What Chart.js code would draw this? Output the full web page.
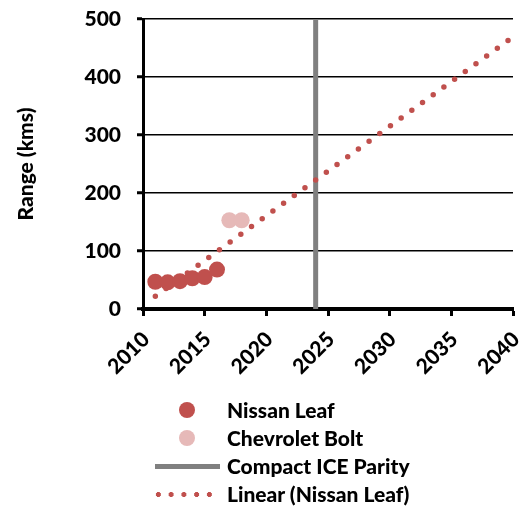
<!DOCTYPE html>
<html>
<head>
<meta charset="utf-8">
<script src="https://cdn.jsdelivr.net/npm/chart.js@4/dist/chart.umd.min.js"></script>
<style>
  html, body { margin: 0; padding: 0; background: #fff; }
  #wrap { position: relative; width: 521px; height: 510px; overflow: hidden; }
  #chart { position: absolute; left: 0; top: 0; }
  #legend { position: absolute; left: 150px; top: 396px; width: 371px; font-family: Lato, 'Noto Sans', sans-serif; font-weight: 900; font-size: 21px; color: #000; }
  .row { position: relative; height: 28px; }
  .row .txt { position: absolute; left: 77px; top: 0; line-height: 28px; white-space: nowrap; }
  .mk { position: absolute; }
</style>
</head>
<body>
<div id="wrap">
  <canvas id="chart" width="521" height="510"></canvas>
  <div id="legend"></div>
</div>
<script>
// ---- data ----
const leafYears = [2011, 2012, 2013, 2014, 2015, 2016];
const leafRange = [47, 46, 48, 53, 55, 68];
const boltYears = [2017, 2018];
const boltRange = [153, 153];
const parityYear = [2024, 2024];
const parityRange = [0, 500];
const trendYears = [2011, 2040];
const trendRange = [22, 469];
const xTickLabels = ['2010', '2015', '2020', '2025', '2030', '2035', '2040'];
const yTickLabels = ['0', '100', '200', '300', '400', '500'];
const seriesNames = ['Nissan Leaf', 'Chevrolet Bolt', 'Compact ICE Parity', 'Linear (Nissan Leaf)'];
const yTitle = 'Range (kms)';

const RED = '#C0504D';
const PINK = '#E6B9B8';
const GREY = '#808080';

function pts(xs, ys) { return xs.map((x, i) => ({ x: x, y: ys[i] })); }

function draw() {
  const font = { family: 'Lato', weight: '900', size: 21 };
  new Chart(document.getElementById('chart'), {
    type: 'scatter',
    data: {
      datasets: [
        { label: seriesNames[3], data: pts(trendYears, trendRange), showLine: true,
          borderColor: RED, borderWidth: 5.5, borderDash: [0, 13.2], borderCapStyle: 'round',
          pointRadius: 0, fill: false, order: 1 },
        { label: seriesNames[0], data: pts(leafYears, leafRange), pointRadius: 8,
          backgroundColor: RED, borderWidth: 0, order: 2 },
        { label: seriesNames[1], data: pts(boltYears, boltRange), pointRadius: 8,
          backgroundColor: PINK, borderWidth: 0, order: 3 },
        { label: seriesNames[2], data: pts(parityYear, parityRange), showLine: true,
          borderColor: GREY, borderWidth: 5, pointRadius: 0, fill: false, order: 4 }
      ]
    },
    options: {
      responsive: false,
      animation: false,
      events: [],
      layout: { padding: { top: 19, right: 8, bottom: 121, left: 0 } },
      plugins: { legend: { display: false }, tooltip: { enabled: false } },
      scales: {
        x: {
          type: 'linear', min: 2010, max: 2040,
          afterBuildTicks: s => { s.ticks = xTickLabels.map(v => ({ value: Number(v) })); },
          afterFit: s => { s.height = 80; s.paddingLeft = 0; s.paddingRight = 0; },
          ticks: { minRotation: 45, maxRotation: 45, autoSkip: false, color: '#000', font: font, padding: 11, labelOffset: 3,
            callback: (v) => xTickLabels[xTickLabels.indexOf(String(v))] },
          grid: { drawOnChartArea: false, drawTicks: true, tickLength: 7, tickWidth: 3, color: '#000', tickColor: '#000' },
          border: { display: true, color: '#000', width: 4 }
        },
        y: {
          type: 'linear', min: 0, max: 500,
          afterBuildTicks: s => { s.ticks = yTickLabels.map(v => ({ value: Number(v) })); },
          afterFit: s => { s.width = 143; s.paddingTop = 0; s.paddingBottom = 0; },
          ticks: { color: '#000', font: font, padding: 16,
            callback: (v) => yTickLabels[yTickLabels.indexOf(String(v))] },
          grid: { color: '#000', lineWidth: 1.5, drawTicks: true, tickLength: 6, tickWidth: 3, tickColor: '#000' },
          border: { display: true, color: '#000', width: 3 },
          title: { display: true, text: yTitle, color: '#000', font: { family: 'Lato', weight: '900', size: 21 }, padding: { top: 14, bottom: 0 } }
        }
      }
    }
  });

  // legend (HTML, real text)
  const lg = document.getElementById('legend');
  const markers = [
    '<div class="mk" style="left:29px;top:6px;width:16px;height:16px;border-radius:50%;background:' + RED + '"></div>',
    '<div class="mk" style="left:29px;top:6px;width:16px;height:16px;border-radius:50%;background:' + PINK + '"></div>',
    '<div class="mk" style="left:5px;top:12px;width:65px;height:4.5px;background:' + GREY + '"></div>',
    '<div class="mk" style="left:2px;top:11.5px;width:64px;height:5px;background:radial-gradient(circle at 50% 50%, ' + RED + ' 2.4px, rgba(255,255,255,0) 2.8px) 0 0/12.75px 5px repeat-x;"></div>'
  ];
  lg.innerHTML = [0, 1, 2, 3].map(i => '<div class="row">' + markers[i] + '<span class="txt">' + seriesNames[i] + '</span></div>').join('');
}

if (document.fonts && document.fonts.load) {
  Promise.all([document.fonts.load('900 21px Lato')]).then(draw, draw);
} else { draw(); }
</script>
</body>
</html>
